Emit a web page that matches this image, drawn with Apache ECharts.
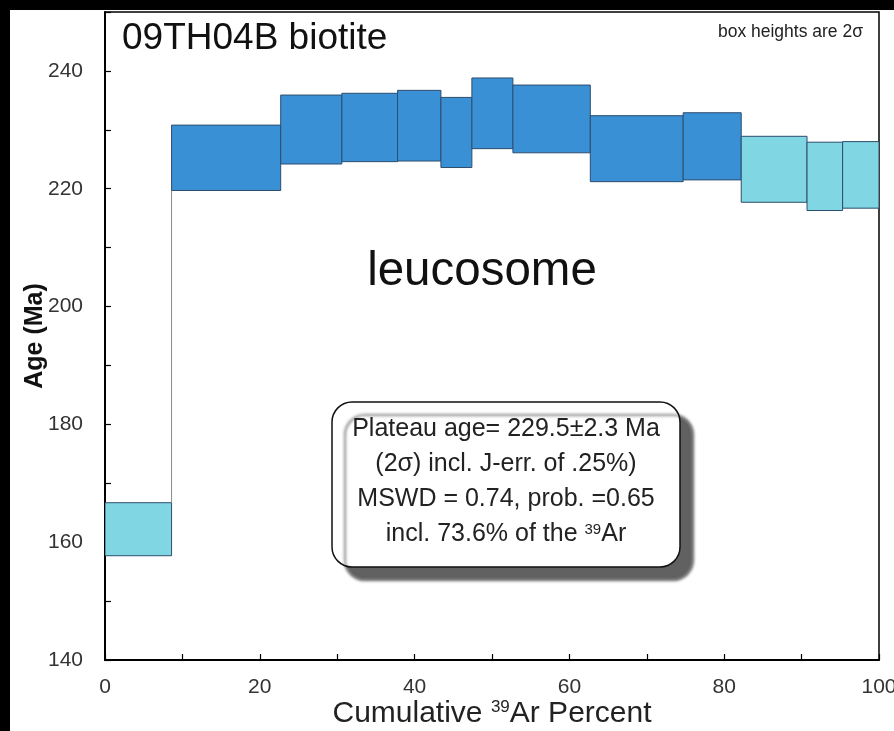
<!DOCTYPE html>
<html>
<head>
<meta charset="utf-8">
<script src="https://cdn.jsdelivr.net/npm/echarts@6/dist/echarts.min.js"></script>
<style>
  html, body { margin: 0; padding: 0; background: #000; width: 894px; height: 731px; overflow: hidden; }
  #c { position: absolute; left: 10px; top: 10px; width: 884px; height: 721px; background: #fff; }
</style>
</head>
<body>
<div id="c"></div>
<script>
// Cumulative 39Ar percent boundaries of each heating step
const stepBounds = [0, 8.6, 22.7, 30.6, 37.8, 43.4, 47.4, 52.7, 62.7, 74.7, 82.2, 90.7, 95.3, 100];
// Age (Ma) lower and upper edge of each box (2 sigma)
const ageLow  = [157.7, 219.7, 224.2, 224.6, 224.7, 223.6, 226.8, 226.1, 221.2, 221.5, 217.7, 216.3, 216.7];
const ageHigh = [166.7, 230.8, 235.9, 236.2, 236.7, 235.5, 238.8, 237.6, 232.4, 232.9, 228.9, 227.9, 228.0];
// 1 = step included in plateau
const inPlateau = [0, 1, 1, 1, 1, 1, 1, 1, 1, 1, 0, 0, 0];

const xTicks = [0, 20, 40, 60, 80, 100];
const yTicks = [140, 160, 180, 200, 220, 240];

const FONT = "'Liberation Sans', Arial, Helvetica, sans-serif";

const data = ageLow.map((lo, i) => [
  stepBounds[i], stepBounds[i + 1], lo, ageHigh[i], inPlateau[i],
  i > 0 ? ageLow[i - 1] : lo, i > 0 ? ageHigh[i - 1] : ageHigh[i]
]);

const chart = echarts.init(document.getElementById('c'), null, { renderer: 'canvas' });

function renderItem(params, api) {
  const x0 = api.value(0), x1 = api.value(1), lo = api.value(2), hi = api.value(3);
  const flag = api.value(4), pLo = api.value(5), pHi = api.value(6);
  const a = api.coord([x0, hi]);
  const b = api.coord([x1, lo]);
  const children = [];
  if (params.dataIndex > 0 && (lo > pHi || hi < pLo)) {
    const y0 = lo > pHi ? pHi : hi;
    const y1 = lo > pHi ? lo : pLo;
    const c0 = api.coord([x0, y0]);
    const c1 = api.coord([x0, y1]);
    children.push({
      type: 'line',
      shape: { x1: c0[0], y1: c0[1], x2: c1[0], y2: c1[1] },
      style: { stroke: '#8a8a8a', lineWidth: 1 }
    });
  }
  children.push({
    type: 'rect',
    shape: { x: a[0], y: a[1], width: b[0] - a[0], height: b[1] - a[1] },
    style: { fill: flag ? '#3a90d4' : '#80d6e2', stroke: '#2d4d6e', lineWidth: 1 }
  });
  return { type: 'group', children };
}

const option = {
  animation: false,
  backgroundColor: '#fff',
  textStyle: { fontFamily: FONT },
  grid: {
    left: 95, right: 15, top: 2, bottom: 71,
    outerBoundsMode: 'none', containLabel: false,
    show: true, borderColor: '#000', borderWidth: 1.5, backgroundColor: 'transparent'
  },
  xAxis: {
    type: 'value', min: 0, max: 100, interval: 10,
    name: '{n|Cumulative }{s|39}{n|Ar Percent}',
    nameLocation: 'middle', nameGap: 38, nameMoveOverlap: false,
    nameTextStyle: {
      rich: {
        n: { fontSize: 30, lineHeight: 32, color: '#222', fontFamily: FONT },
        s: { fontSize: 17, lineHeight: 32, color: '#222', fontFamily: FONT, verticalAlign: 'top', padding: [1, 0, 0, 0] }
      }
    },
    axisLine: { show: true, onZero: false, lineStyle: { color: '#000', width: 2 } },
    axisTick: { show: true, inside: true, length: 6, lineStyle: { color: '#000', width: 1.2 } },
    splitLine: { show: false },
    axisLabel: {
      margin: 17, fontSize: 21, color: '#333', fontFamily: FONT,
      formatter: v => (xTicks.indexOf(v) >= 0 ? String(v) : '')
    }
  },
  yAxis: {
    type: 'value', min: 140, max: 250, interval: 10,
    name: 'Age (Ma)', nameLocation: 'middle', nameGap: 57, nameRotate: 90, nameMoveOverlap: false,
    nameTextStyle: { fontSize: 25, fontWeight: 'bold', color: '#111', fontFamily: FONT },
    axisLine: { show: true, onZero: false, lineStyle: { color: '#000', width: 2 } },
    axisTick: { show: true, inside: true, length: 6, lineStyle: { color: '#000', width: 1.2 } },
    splitLine: { show: false },
    axisLabel: {
      margin: 22, fontSize: 21, color: '#333', fontFamily: FONT,
      formatter: v => (yTicks.indexOf(v) >= 0 ? String(v) : '')
    }
  },
  series: [{
    type: 'custom',
    renderItem,
    encode: { x: [0, 1], y: [2, 3] },
    data,
    clip: true
  }],
  graphic: [
    {
      type: 'text', left: 112, top: 10,
      style: { text: '09TH04B biotite', fontSize: 37, fill: '#111', fontFamily: FONT }
    },
    {
      type: 'text', right: 31, top: 13,
      style: { text: 'box heights are 2σ', fontSize: 17.5, fill: '#222', fontFamily: FONT }
    },
    {
      type: 'text', x: 472, y: 262,
      style: { text: 'leucosome', fontSize: 47.5, fill: '#111', fontFamily: FONT, align: 'center', verticalAlign: 'middle' }
    },
    {
      type: 'rect',
      shape: { x: 322, y: 392, width: 348, height: 165, r: 20 },
      style: { fill: '#fff', stroke: '#111', lineWidth: 1.5, shadowColor: 'rgba(80,80,80,0.9)', shadowOffsetX: 13, shadowOffsetY: 13, shadowBlur: 3 }
    },
    {
      type: 'text', x: 496, y: 472,
      style: {
        text: '{t|Plateau age= 229.5±2.3 Ma}\n{t|(2σ) incl. J-err. of .25%)}\n{t|MSWD = 0.74, prob. =0.65}\n{t|incl. 73.6% of the }{s|39}{t|Ar}',
        align: 'center', verticalAlign: 'middle', fontFamily: FONT,
        rich: {
          t: { fontSize: 25, lineHeight: 35, fill: '#222', fontFamily: FONT },
          s: { fontSize: 15, lineHeight: 35, fill: '#222', fontFamily: FONT, verticalAlign: 'top', padding: [5, 0, 0, 0] }
        }
      }
    }
  ]
};
chart.setOption(option);
</script>
</body>
</html>
